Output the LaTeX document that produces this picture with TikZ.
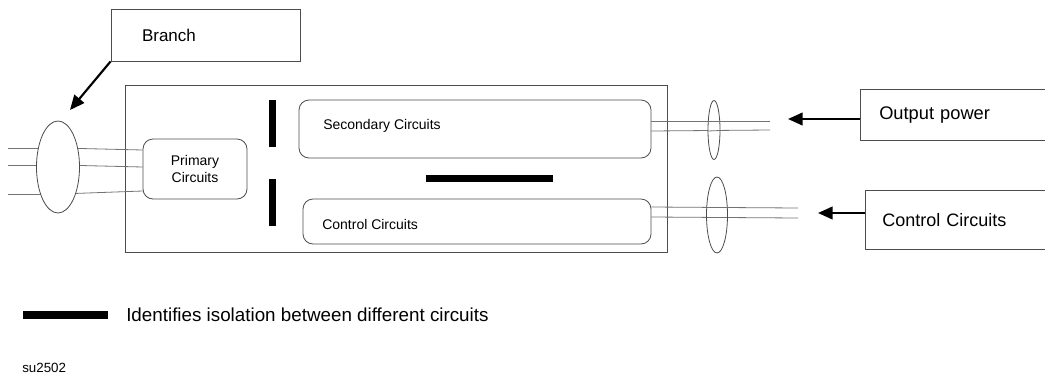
\documentclass[tikz,border=0pt]{standalone}
\usepackage{fontspec}
\setmainfont{Liberation Sans}
\usetikzlibrary{arrows.meta,shapes.geometric}
\begin{document}
\begin{tikzpicture}[x=0.75pt,y=-0.75pt,
  boxline/.style={draw=black!70,line width=0.6pt},
  wire/.style={draw=black!55,line width=0.6pt},
  roundbox/.style={boxline,rounded corners=7.5pt,inner sep=0pt},
  cable/.style={ellipse,boxline,fill=white,inner sep=0pt},
  isobar/.style={fill=black,draw=none,inner sep=0pt},
  pointer/.style={line width=1.6pt,-{Triangle[length=11pt,width=9.5pt]}},
  big/.style={font=\fontsize{12.75pt}{15pt}\selectfont},
  mid/.style={font=\fontsize{10.5pt}{13.5pt}\selectfont},
  tiny/.style={font=\fontsize{10pt}{12pt}\selectfont}]
\useasboundingbox (0,0) rectangle (1045,379);

% enclosure
\node[boxline,minimum width=406.5pt,minimum height=125.25pt,inner sep=0pt] (encl) at (396,168.5) {};

% label boxes
\node[boxline,big,minimum width=141.75pt,minimum height=39pt,text width=95.25pt,
      inner xsep=23.25pt,align=left] (branch) at (205.5,35) {Branch};

% circuits inside the enclosure
\node[roundbox,mid,minimum width=78pt,minimum height=45pt,align=center] (prim) at (195,169) {Primary\\[-1pt]Circuits};
\node[roundbox,minimum width=264pt,minimum height=43.5pt] (sec) at (475,129) {};
\node[mid,anchor=west,inner sep=0pt] (sectext) at (323,126) {Secondary Circuits};
\node[roundbox,minimum width=261pt,minimum height=33.75pt] (ctl) at (477,221.5) {};
\node[mid,anchor=west,inner sep=0pt] (ctltext) at (322,224) {Control Circuits};

% isolation barriers
\node[isobar,minimum width=5.5pt,minimum height=35.25pt] (isoA) at (272.5,123.5) {};
\node[isobar,minimum width=5.5pt,minimum height=35.25pt] (isoB) at (272.5,202.5) {};
\node[isobar,minimum width=95.25pt,minimum height=5pt] (isoC) at (489.5,178.5) {};

% input cable
\coordinate (inA) at (8,148);
\coordinate (inB) at (8,165);
\coordinate (inC) at (8,194);
\coordinate (inA2) at (58,148);
\coordinate (inB2) at (58,165);
\coordinate (inC2) at (58,194);
\draw[wire] (inA) -- (inA2);
\draw[wire] (inB) -- (inB2);
\draw[wire] (inC) -- (inC2);
\draw[wire] (60,148) -- (prim.west |- 0,150);
\draw[wire] (60,165) -- (prim.west |- 0,167);
\draw[wire] (60,194) -- (prim.west |- 0,191);
\node[cable,minimum width=32.25pt,minimum height=69pt] (inbundle) at (58,167) {};

% output power cable
\coordinate (opA) at (770,121);
\coordinate (opB) at (770,130);
\draw[wire] (sec.east |- 0,121) -- (opA);
\draw[wire] (sec.east |- 0,131) -- (opB);
\node[cable,minimum width=9pt,minimum height=44.25pt] (outbundle) at (714,130) {};
\draw[wire] (708,121) -- (720,121);
\draw[wire] (708,131) -- (720,130.5);

% control cable
\coordinate (ccA) at (798,208);
\coordinate (ccB) at (798,218);
\draw[wire] (ctl.east |- 0,207) -- (ccA);
\draw[wire] (ctl.east |- 0,217) -- (ccB);
\node[cable,minimum width=15.75pt,minimum height=57pt] (ctlbundle) at (717,215) {};
\draw[wire] (707,207) -- (727,207);
\draw[wire] (707,217) -- (727,217);

% open label boxes on the right
\node[font=\fontsize{13.7pt}{16pt}\selectfont,minimum width=142.5pt,minimum height=37.5pt,text width=114pt,inner xsep=14.25pt,
      align=left,anchor=west] (outpow) at (860,115) {Output power};
\draw[boxline] (outpow.north east) -- (outpow.north west) -- (outpow.south west) -- (outpow.south east);
\node[font=\fontsize{13.5pt}{16pt}\selectfont,minimum width=138pt,minimum height=43.5pt,text width=112.5pt,
      inner xsep=12.75pt,align=left,anchor=west] (ctlin) at (865,220) {Control Circuits};
\draw[boxline] (ctlin.north east) -- (ctlin.north west) -- (ctlin.south west) -- (ctlin.south east);

% pointers
\coordinate (brtip) at (70,110);
\coordinate (optip) at (788,119);
\coordinate (cctip) at (818,213);
\draw[pointer] (branch.south west) -- (brtip);
\draw[pointer] (outpow.west |- 0,119) -- (optip);
\draw[pointer] (ctlin.west |- 0,213) -- (cctip);

% legend
\node[isobar,minimum width=63.75pt,minimum height=5.5pt] (legbar) at (65.5,315) {};
\node[font=\fontsize{14.1pt}{17pt}\selectfont,anchor=west,inner sep=0pt] (legtext) at (126,315) {Identifies isolation between different circuits};
\node[tiny,anchor=west,inner sep=0pt] (tag) at (22,368) {su2502};
\end{tikzpicture}
\end{document}
